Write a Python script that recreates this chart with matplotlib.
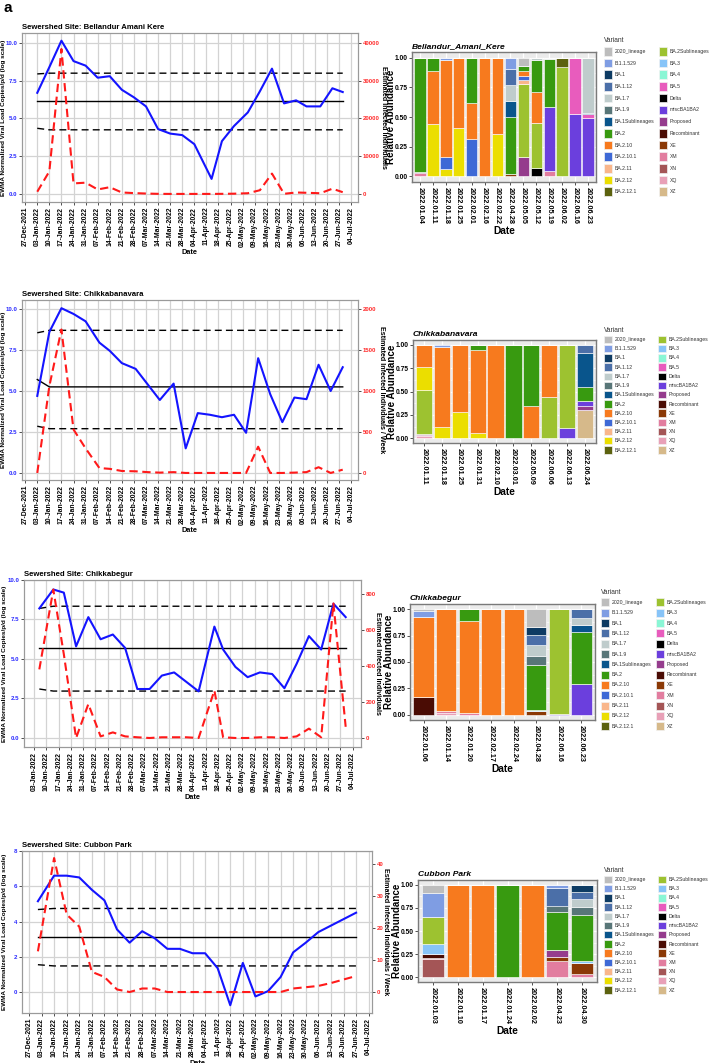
import numpy as np
import pandas as pd
import matplotlib
matplotlib.use('Agg')
import matplotlib.pyplot as plt
import matplotlib.dates as mdates
from matplotlib.patches import Patch
from matplotlib.ticker import FixedLocator, FormatStrFormatter, MultipleLocator

plt.rcParams['font.family'] = ['Liberation Sans', 'DejaVu Sans']

W, H = 711, 1063

# ---- variants (legend order, ggplot stacks first level on top) ----
variants = ['2020_lineage', 'B.1.1.529', 'BA.1', 'BA.1.12', 'BA.1.7', 'BA.1.9',
            'BA.1Sublineages', 'BA.2', 'BA.2.10', 'BA.2.10.1', 'BA.2.11', 'BA.2.12',
            'BA.2.12.1', 'BA.2Sublineages', 'BA.3', 'BA.4', 'BA.5', 'Delta',
            'miscBA1BA2', 'Proposed', 'Recombinant', 'XE', 'XM', 'XN', 'XQ', 'XZ']
variant_colors = ['#bdbdbd', '#7f9de3', '#0e3b63', '#4b6fa8', '#bfcccc', '#587678',
                  '#09558c', '#389a10', '#f77a1e', '#3e69d6', '#f9b68b', '#ebde00',
                  '#5c620f', '#9dc230', '#87c4f8', '#8af6d5', '#e85cbd', '#000000',
                  '#6b3fdd', '#953c8d', '#4a0c04', '#8b3906', '#e27d9f', '#a45556',
                  '#e8a0b7', '#d6b98a']

# ---- Bellandur Amani Kere ----
bel_blue_dates = ['2022-01-03', '2022-01-10', '2022-01-17', '2022-01-24', '2022-01-31',
                  '2022-02-07', '2022-02-14', '2022-02-21', '2022-02-28', '2022-03-07',
                  '2022-03-14', '2022-03-21', '2022-03-28', '2022-04-04', '2022-04-14',
                  '2022-04-20', '2022-04-27', '2022-05-05', '2022-05-12', '2022-05-19',
                  '2022-05-26', '2022-06-02', '2022-06-08', '2022-06-16', '2022-06-23',
                  '2022-06-29']
bel_blue = [6.7, 8.4, 10.15, 8.8, 8.5, 7.7, 7.8, 6.9, 6.4, 5.8, 4.3, 4.0, 3.9, 3.3, 1.0,
            3.5, 4.5, 5.4, 6.8, 8.3, 6.0, 6.2, 5.8, 5.8, 7.0, 6.75]
bel_red_dates = bel_blue_dates
bel_red = [600, 6000, 38400, 2800, 3000, 1200, 1800, 400, 240, 120, 40, 20, 20, 20, 20,
           40, 80, 200, 1000, 5400, 50, 400, 320, 200, 1400, 480]
bel_mean = [6.15, 6.15]
bel_upper = [7.95, 8.0]
bel_lower = [4.35, 4.25]

bel_bar_dates = ['2022.01.04', '2022.01.11', '2022.01.18', '2022.01.25', '2022.02.01',
                 '2022.02.16', '2022.02.22', '2022.04.28', '2022.05.05', '2022.05.12',
                 '2022.05.19', '2022.06.02', '2022.06.16', '2022.06.23']
bel_samples = [
    {'XM': 0.025, 'Proposed': 0.01, 'BA.2': 0.965},
    {'BA.2.12': 0.44, 'BA.2.10': 0.45, 'BA.2': 0.11},
    {'BA.2.12': 0.06, 'BA.2.10.1': 0.10, 'BA.2.10': 0.82, 'B.1.1.529': 0.02},
    {'BA.2.12': 0.41, 'BA.2.10': 0.59},
    {'BA.2.10.1': 0.31, 'BA.2.10': 0.31, 'BA.2': 0.38},
    {'BA.2.10': 1.0},
    {'BA.2.12': 0.36, 'BA.2.10': 0.64},
    {'XE': 0.02, 'BA.2': 0.48, 'BA.1Sublineages': 0.135, 'BA.1.7': 0.135,
     'BA.1.12': 0.14, 'B.1.1.529': 0.09},
    {'Proposed': 0.16, 'BA.2Sublineages': 0.62, 'BA.2.11': 0.03, 'BA.2.10.1': 0.035,
     'BA.2.10': 0.045, 'BA.2': 0.04, '2020_lineage': 0.07},
    {'Delta': 0.07, 'BA.2Sublineages': 0.38, 'BA.2.10': 0.26, 'BA.2': 0.275, 'BA.1.7': 0.015},
    {'XM': 0.045, 'miscBA1BA2': 0.54, 'BA.2': 0.405, 'BA.1.7': 0.01},
    {'BA.2Sublineages': 0.92, 'BA.2.12.1': 0.08},
    {'miscBA1BA2': 0.525, 'BA.5': 0.475},
    {'miscBA1BA2': 0.49, 'BA.5': 0.035, 'BA.1Sublineages': 0.01, 'BA.1.7': 0.465},
]

# ---- Chikkabanavara ----
chb_blue_dates = ['2022-01-03', '2022-01-10', '2022-01-17', '2022-01-24', '2022-01-31',
                  '2022-02-08', '2022-02-14', '2022-02-21', '2022-03-01', '2022-03-08',
                  '2022-03-15', '2022-03-23', '2022-03-30', '2022-04-06', '2022-04-13',
                  '2022-04-20', '2022-04-27', '2022-05-04', '2022-05-11', '2022-05-18',
                  '2022-05-25', '2022-06-01', '2022-06-08', '2022-06-15', '2022-06-22',
                  '2022-06-29']
chb_blue = [4.7, 8.6, 10.05, 9.7, 9.25, 7.95, 7.45, 6.7, 6.35, 5.4, 4.45, 5.45, 1.5, 3.65,
            3.55, 3.4, 3.55, 2.45, 7.0, 4.8, 3.1, 4.6, 4.5, 6.6, 5.0, 6.45]
chb_red_dates = chb_blue_dates
chb_red = [0, 1060, 1750, 530, 300, 60, 50, 24, 20, 10, 4, 10, 0, 0, 0, 0, 0, 0, 320, 0,
           0, 4, 10, 70, 0, 40]
chb_mean = [5.7, 5.25]
chb_upper = [8.55, 8.7]
chb_lower = [2.85, 2.7]

chb_bar_dates = ['2022.01.11', '2022.01.18', '2022.01.25', '2022.01.31', '2022.02.10',
                 '2022.03.01', '2022.05.09', '2022.06.06', '2022.06.13', '2022.06.24']
chb_samples = [
    {'XQ': 0.02, 'XM': 0.015, 'Proposed': 0.01, 'BA.2Sublineages': 0.475,
     'BA.2.12': 0.24, 'BA.2.10': 0.24},
    {'BA.2.12': 0.12, 'BA.2.10': 0.85, 'B.1.1.529': 0.03},
    {'BA.2.12': 0.28, 'BA.2.10': 0.72},
    {'BA.2.12': 0.06, 'BA.2.10': 0.88, 'BA.2': 0.06},
    {'BA.2.10': 1.0},
    {'BA.2': 1.0},
    {'BA.2.10': 0.34, 'BA.2': 0.66},
    {'BA.2Sublineages': 0.44, 'BA.2.10': 0.56},
    {'miscBA1BA2': 0.11, 'BA.2Sublineages': 0.89},
    {'XZ': 0.30, 'Proposed': 0.05, 'miscBA1BA2': 0.05, 'BA.2': 0.15,
     'BA.1Sublineages': 0.36, 'BA.1.12': 0.09},
]

# ---- Chikkabegur ----
chg_blue_dates = ['2022-01-06', '2022-01-14', '2022-01-20', '2022-01-27', '2022-02-03',
                  '2022-02-10', '2022-02-17', '2022-02-24', '2022-03-03', '2022-03-10',
                  '2022-03-17', '2022-03-24', '2022-03-31', '2022-04-07', '2022-04-16',
                  '2022-04-21', '2022-04-28', '2022-05-05', '2022-05-12', '2022-05-19',
                  '2022-05-26', '2022-06-02', '2022-06-09', '2022-06-16', '2022-06-23',
                  '2022-06-30']
chg_blue = [8.2, 9.4, 9.2, 5.8, 7.65, 6.25, 6.55, 5.7, 3.1, 3.1, 3.95, 4.15, 3.55, 2.95,
            7.05, 5.6, 4.5, 3.85, 4.15, 4.05, 3.15, 4.7, 6.45, 5.6, 8.5, 7.65]
chg_red_dates = chg_blue_dates
chg_red = [380, 822, 464, 0, 188, 9, 31, 9, 4, 0, 4, 4, 4, 0, 263, 4, 0, 0, 4, 4, 0, 9,
           52, 4, 745, 62]
chg_mean = [5.7, 5.7]
chg_upper = [8.2, 8.34]
chg_lower = [3.1, 2.97]

chg_bar_dates = ['2022.01.06', '2022.01.14', '2022.01.20', '2022.02.17', '2022.02.24',
                 '2022.04.28', '2022.06.16', '2022.06.23']
chg_samples = [
    {'Recombinant': 0.17, 'BA.2.10': 0.755, 'B.1.1.529': 0.06, '2020_lineage': 0.015},
    {'XQ': 0.015, 'XM': 0.025, 'BA.2.10': 0.96},
    {'XM': 0.012, 'BA.2.10': 0.873, 'BA.2': 0.115},
    {'BA.2.10': 1.0},
    {'BA.2.10': 1.0},
    {'XE': 0.035, 'BA.3': 0.01, 'BA.2': 0.425, 'BA.1.9': 0.085, 'BA.1.7': 0.105,
     'BA.1.12': 0.10, 'BA.1': 0.075, '2020_lineage': 0.165},
    {'miscBA1BA2': 0.01, 'BA.2Sublineages': 0.99},
    {'miscBA1BA2': 0.29, 'BA.2': 0.49, 'BA.1Sublineages': 0.07, 'BA.1.7': 0.07, 'BA.1.12': 0.08},
]

# ---- Cubbon Park ----
cub_blue_dates = ['2022-01-01', '2022-01-10', '2022-01-17', '2022-01-24', '2022-01-31',
                  '2022-02-07', '2022-02-14', '2022-02-21', '2022-02-28', '2022-03-07',
                  '2022-03-14', '2022-03-21', '2022-03-28', '2022-04-04', '2022-04-11',
                  '2022-04-18', '2022-04-25', '2022-05-02', '2022-05-09', '2022-05-16',
                  '2022-05-23', '2022-05-30', '2022-06-06', '2022-06-27']
cub_blue = [5.15, 6.6, 6.6, 6.5, 5.8, 5.2, 3.55, 2.8, 3.45, 3.05, 2.45, 2.45, 2.2, 2.2,
            1.35, -0.75, 1.65, -0.25, 0.05, 0.85, 2.25, 2.8, 3.4, 4.5]
cub_red_dates = ['2022-01-01', '2022-01-10', '2022-01-17', '2022-01-24', '2022-01-31',
                 '2022-02-07', '2022-02-14', '2022-02-21', '2022-02-28', '2022-03-07',
                 '2022-03-14', '2022-03-21', '2022-03-28', '2022-04-04', '2022-04-11',
                 '2022-04-18', '2022-04-25', '2022-05-02', '2022-05-09', '2022-05-16',
                 '2022-05-23', '2022-05-30', '2022-06-06', '2022-06-13', '2022-06-20',
                 '2022-06-27']
cub_red = [12.7, 41.8, 24.2, 20.4, 6.3, 4.7, 0.8, 0, 1.1, 1.1, 0, 0, 0, 0, 0, 0, 0, 0, 0,
           0, 1.1, 1.5, 1.9, 2.8, 3.9, 5.0]
cub_mean = [3.1, 3.1]
cub_upper = [4.68, 4.74]
cub_lower = [1.55, 1.48]

cub_bar_dates = ['2022.01.03', '2022.01.10', '2022.01.17', '2022.01.24', '2022.02.02',
                 '2022.04.23', '2022.04.30']
cub_samples = [
    {'XN': 0.195, 'XM': 0.01, 'Recombinant': 0.05, 'BA.3': 0.10, 'BA.2Sublineages': 0.295,
     'B.1.1.529': 0.26, '2020_lineage': 0.09},
    {'BA.2.10': 1.0},
    {'BA.2.10': 1.0},
    {'BA.2': 1.0},
    {'BA.2.10': 1.0},
    {'XM': 0.18, 'XE': 0.04, 'Proposed': 0.08, 'BA.2': 0.40, 'BA.1.9': 0.075,
     'BA.1.12': 0.185, 'B.1.1.529': 0.04},
    {'XM': 0.04, 'XE': 0.117, 'BA.3': 0.02, 'BA.2': 0.5, 'BA.1.9': 0.083, 'BA.1.7': 0.08,
     'BA.1.12': 0.08, 'BA.1': 0.08},
]


def box(l, t, r, b):
    return [l / W, 1 - b / H, (r - l) / W, (b - t) / H]


def mid_y(rect):
    # vertical centre of an axes rect, in figure fraction
    return rect[1] + rect[3] / 2


fig = plt.figure(figsize=(W / 100, H / 100), dpi=100)
fig.text(4 / W, 1 - 12 / H, 'a', fontsize=11, fontweight='bold')


def line_panel(rect, title, bdates, blue, rdates, red, mean, upper, lower,
               factor, ylim, yticks, rticks, rlabel, lab_x, rlab_x):
    ax = fig.add_axes(rect)
    bd = pd.to_datetime(bdates)
    rd = pd.to_datetime(rdates)
    allx = bd.union(rd)
    span = allx.max() - allx.min()
    ax.set_xlim(allx.min() - span * 0.05, allx.max() + span * 0.05)
    ax.set_ylim(*ylim)
    ax.set_facecolor('white')
    ax.xaxis.set_major_locator(mdates.WeekdayLocator(byweekday=mdates.MO))
    ax.xaxis.set_major_formatter(mdates.DateFormatter('%d-%b-%Y'))
    ax.yaxis.set_major_locator(FixedLocator(yticks))
    ax.yaxis.set_major_formatter(FormatStrFormatter('%.1f' if yticks[1] % 1 else '%d'))
    ax.grid(True, color='#d3d3d3', lw=0.9)
    ax.set_axisbelow(True)
    for s in ax.spines.values():
        s.set_color('#9a9a9a')
        s.set_linewidth(0.8)
    ax.tick_params(axis='x', labelsize=4.9, rotation=90, length=2, width=0.6,
                   colors='#333333', pad=1.5)
    ax.tick_params(axis='y', labelsize=4.4, length=2, width=0.6, colors='#333333',
                   labelcolor='#2a2aff', pad=1.3)
    for lab in ax.get_xticklabels() + ax.get_yticklabels():
        lab.set_fontweight('bold')
    for lab in ax.get_xticklabels():
        lab.set_color('black')

    tx = [bd[0], bd[1], bd[-1]]
    ax.plot(tx, [upper[0], upper[1], upper[1]], color='black', lw=1.0, ls=(0, (5, 3)))
    ax.plot(tx, [lower[0], lower[1], lower[1]], color='black', lw=1.0, ls=(0, (5, 3)))
    ax.plot(tx, [mean[0], mean[1], mean[1]], color='black', lw=1.0)
    ax.plot(bd, blue, color='#1414ff', lw=1.5, zorder=4)

    ax2 = ax.twinx()
    ax2.set_ylim(ylim[0] * factor, ylim[1] * factor)
    ax2.plot(rd, red, color='#ff1a1a', lw=1.5, ls=(0, (4, 2.2)), zorder=3)
    ax2.yaxis.set_major_locator(FixedLocator(rticks))
    ax2.tick_params(axis='y', labelsize=4.3, length=2, width=0.6, colors='#333333',
                    labelcolor='#ff2a2a', pad=1.2)
    for lab in ax2.get_yticklabels():
        lab.set_fontweight('bold')
    for s in ax2.spines.values():
        s.set_color('#9a9a9a')
        s.set_linewidth(0.8)

    fig.text(rlab_x / W, mid_y(rect), rlabel, rotation=270, fontsize=5.1,
             fontweight='bold', ha='center', va='center')
    fig.text(lab_x / W, mid_y(rect), 'EWMA Normalized Viral Load Copies/p/d (log scale)',
             rotation=90, fontsize=4.55, fontweight='bold', ha='center', va='center')
    ax.set_xlabel('Date', fontsize=5.3, fontweight='bold', labelpad=1.5)
    ax.set_title('Sewershed Site: ' + title, loc='left', fontsize=5.6, fontweight='bold',
                 pad=3)
    return ax


def bar_panel(rect, title, dates, samples, ylab_x):
    ax = fig.add_axes(rect)
    x = np.arange(len(dates))
    bottom = np.zeros(len(dates))
    for v, c in zip(variants[::-1], variant_colors[::-1]):
        vals = np.array([s.get(v, 0.0) for s in samples])
        if vals.sum() == 0:
            continue
        ax.bar(x, vals, bottom=bottom, width=0.9, color=c, edgecolor='white', lw=0.4,
               zorder=3)
        bottom += vals
    ax.set_facecolor('#ebebeb')
    ax.set_xlim(-0.6, len(dates) - 0.4)
    ax.set_ylim(-0.05, 1.05)
    ax.set_xticks(x)
    ax.set_xticklabels(dates, rotation=270, fontsize=5.3, fontweight='bold')
    ax.yaxis.set_major_locator(FixedLocator([0, 0.25, 0.5, 0.75, 1.0]))
    ax.yaxis.set_minor_locator(MultipleLocator(0.125))
    ax.yaxis.set_major_formatter(FormatStrFormatter('%.2f'))
    ax.grid(True, which='major', color='white', lw=0.9)
    ax.grid(True, which='minor', axis='y', color='white', lw=0.45)
    ax.set_axisbelow(True)
    ax.tick_params(axis='x', labelsize=5.3, length=2, width=0.6, colors='#333333',
                   labelcolor='black', pad=1.5)
    ax.tick_params(axis='y', labelsize=4.8, length=2, width=0.6, colors='#333333',
                   labelcolor='black', pad=1.2)
    ax.tick_params(which='minor', length=0)
    for lab in ax.get_yticklabels():
        lab.set_fontweight('bold')
    for s in ax.spines.values():
        s.set_color('#7a7a7a')
        s.set_linewidth(1.0)
    fig.text(ylab_x / W, mid_y(rect), 'Relative Abundance', rotation=90, fontsize=7.1,
             fontweight='bold', ha='center', va='center')
    ax.set_xlabel('Date', fontsize=7.3, fontweight='bold', labelpad=1.5)
    ax.set_title(title, loc='left', fontsize=6.1, fontweight='bold', fontstyle='italic',
                 pad=3)
    return ax


def variant_legend(x, y, hh, hl, spacing):
    handles = [Patch(facecolor=c, edgecolor='#f2f2f2', lw=0.5, label=v)
               for v, c in zip(variants, variant_colors)]
    leg = fig.legend(handles=handles, loc='upper left', bbox_to_anchor=(x / W, 1 - y / H),
                     ncol=2, frameon=False, title='Variant', title_fontsize=4.8,
                     fontsize=3.7, handlelength=hl, handleheight=hh, handletextpad=0.5,
                     labelspacing=spacing, columnspacing=0.8, borderpad=0,
                     borderaxespad=0, alignment='left')
    for t in leg.get_texts():
        t.set_color('#333333')
    leg.get_title().set_color('#333333')


# row 1
line_panel(box(22, 33, 358, 202), 'Bellandur Amani Kere', bel_blue_dates, bel_blue,
           bel_red_dates, bel_red, bel_mean, bel_upper, bel_lower, 4000, (-0.53, 10.66),
           [0, 2.5, 5, 7.5, 10], [0, 10000, 20000, 30000, 40000],
           'Estimated Infected Individuals', 4, 383)
bar_panel(box(412, 52, 596, 182), 'Bellandur_Amani_Kere', bel_bar_dates, bel_samples, 391)
variant_legend(604, 37, 2.2, 1.65, 0.6)

# row 2
line_panel(box(22, 300, 358, 480), 'Chikkabanavara', chb_blue_dates, chb_blue,
           chb_red_dates, chb_red, chb_mean, chb_upper, chb_lower, 200, (-0.43, 10.55),
           [0, 2.5, 5, 7.5, 10], [0, 500, 1000, 1500, 2000],
           'Estimated Infected Individuals / Week', 4, 382)
bar_panel(box(413, 340, 596, 443), 'Chikkabanavara', chb_bar_dates, chb_samples, 392)
variant_legend(604, 327, 1.87, 1.55, 0.33)

# row 3
line_panel(box(24, 580, 361, 747), 'Chikkabegur', chg_blue_dates, chg_blue,
           chg_red_dates, chg_red, chg_mean, chg_upper, chg_lower, 87.5, (-0.57, 10.0),
           [0, 2.5, 5, 7.5, 10], [0, 200, 400, 600, 800],
           'Estimated Infected Individuals', 5, 378)
bar_panel(box(410, 604, 595, 720), 'Chikkabegur', chg_bar_dates, chg_samples, 389)
variant_legend(601, 589, 2.02, 1.6, 0.45)

# row 4
line_panel(box(22, 851, 372, 1013), 'Cubbon Park', cub_blue_dates, cub_blue,
           cub_red_dates, cub_red, cub_mean, cub_upper, cub_lower, 5.5, (-1.19, 8.0),
           [0, 2, 4, 6, 8], [0, 10, 20, 30, 40],
           'Estimated Infected Individuals / Week', 4.5, 386)
bar_panel(box(418, 880, 597, 982), 'Cubbon Park', cub_bar_dates, cub_samples, 397)
variant_legend(604, 867, 1.87, 1.55, 0.33)

fig.savefig('out.png', dpi=100)
